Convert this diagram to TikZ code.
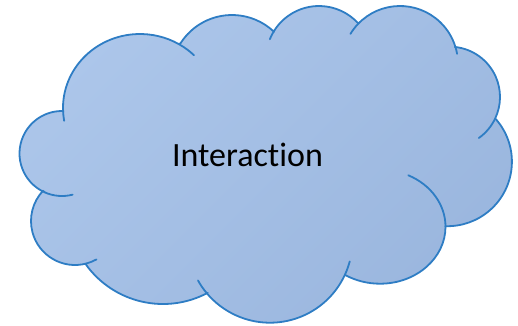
\documentclass[tikz,border=0pt]{standalone}
\usepackage{fontspec}
\usetikzlibrary{calc}
\newfontfamily\calfont[Ligatures=NoCommon]{Carlito}
\definecolor{cloudline}{RGB}{46,125,196}
\definecolor{cloudtop}{RGB}{172,198,234}
\definecolor{cloudbot}{RGB}{154,182,222}
\tikzset{
  cloud edge/.style={draw=cloudline,line width=1.8pt,line join=round},
  cloud tick/.style={cloudline,line width=1.8pt,line cap=round}
}

\begin{document}
\begin{tikzpicture}[x=1pt,y=-1pt]
  \useasboundingbox (0,0) rectangle (518,325);
  % rim of the cloud, one arc per bump, clockwise from lower left
  \path[cloud edge,top color=cloudtop,bottom color=cloudbot,shading angle=45]
    ($(62,153.5)+(114:42.5)$) arc[start angle=114,end angle=271.8,radius=42.5]
    -- ($(140,108)+(178:77 and 74)$) arc[start angle=178,end angle=300,x radius=77,y radius=74]
    -- ($(232,76)+(212.2:61)$) arc[start angle=212.2,end angle=313.5,radius=61]
    -- ($(319,59)+(211.7:53)$) arc[start angle=211.7,end angle=318.1,radius=53]
    -- ($(400,64)+(223.6:58)$) arc[start angle=223.6,end angle=342.5,radius=58]
    -- ($(449.7,97)+(-84:50.3)$) arc[start angle=-84,end angle=25.6,radius=50.3]
    -- ($(447.4,161.7)+(-40.9:64.5)$) arc[start angle=-40.9,end angle=91.7,radius=64.5]
    -- ($(380,226.7)+(0:65.5 and 57)$) arc[start angle=0,end angle=122.1,x radius=65.5,y radius=57]
    -- ($(270,240.2)+(24.5:82.5)$) arc[start angle=24.5,end angle=140,radius=82.5]
    -- ($(163,209)+(61.9:95)$) arc[start angle=61.9,end angle=144.1,radius=95]
    -- ($(75,221)+(75.2:44)$) arc[start angle=75.2,end angle=223.3,radius=44]
    -- cycle;
  % short inner arcs where two bumps meet
  \foreach \cx/\cy/\rx/\ry/\a/\b in {
      62/153.5/42.5/42.5/75.5/114, 140/108/77/74/170/178, 140/108/77/74/300/314.5,
      319/59/53/53/201.9/211.7, 400/64/58/58/211.3/223.6, 400/64/58/58/342.5/349.9,
      449.7/97/50.3/50.3/25.6/54.6, 380/226.7/65.5/57/-64.4/0,
      270/240.2/82.5/82.5/14.9/24.5, 270/240.2/82.5/82.5/140/150.8,
      75/221/44/44/60.8/75.2}
    \draw[cloud tick] ($(\cx,\cy)+(\a:{\rx} and {\ry})$)
      arc[start angle=\a,end angle=\b,x radius=\rx,y radius=\ry];
  \node[font=\calfont\fontsize{34}{40}\selectfont,anchor=base] (title) at (247.5,166.7) {Interaction};
\end{tikzpicture}
\end{document}
